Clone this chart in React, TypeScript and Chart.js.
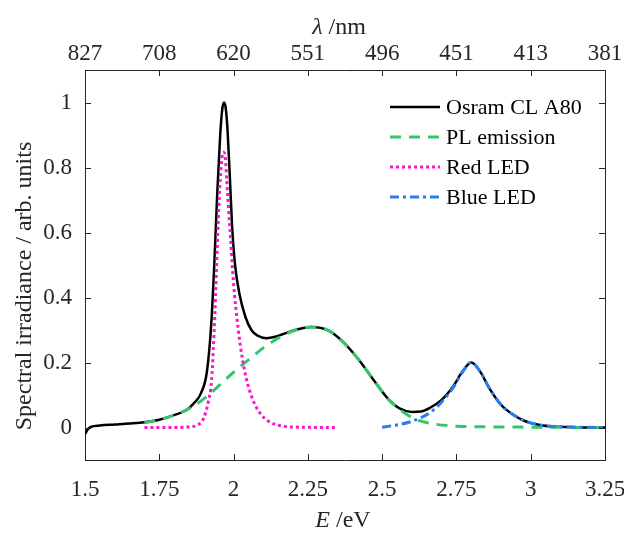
import React, { useEffect, useRef } from 'react';
import { Chart, registerables } from 'chart.js';

Chart.register(...registerables);

// ---- tick values / labels ----
const xTicks = [1.5, 1.75, 2, 2.25, 2.5, 2.75, 3, 3.25];
const xTickLabels = ['1.5', '1.75', '2', '2.25', '2.5', '2.75', '3', '3.25'];
const lambdaTickLabels = ['827', '708', '620', '551', '496', '451', '413', '381'];
const yTicks = [0, 0.2, 0.4, 0.6, 0.8, 1];
const yTickLabels = ['0', '0.2', '0.4', '0.6', '0.8', '1'];

// ---- series ----
const osramE = [1.5, 1.51, 1.52, 1.55, 1.6, 1.65, 1.7, 1.75, 1.8, 1.84, 1.87, 1.89, 1.91, 1.925, 1.935, 1.945, 1.955, 1.962, 1.968, 1.974, 1.98, 1.988, 1.995, 2.005, 2.02, 2.04, 2.06, 2.08, 2.11, 2.14, 2.18, 2.22, 2.26, 2.32, 2.37, 2.42, 2.47, 2.52, 2.56, 2.6, 2.63, 2.66, 2.7, 2.74, 2.77, 2.8, 2.83, 2.86, 2.9, 2.94, 2.98, 3.03, 3.08, 3.15, 3.25];
const osramV = [-0.02, -0.005, 0.002, 0.006, 0.009, 0.012, 0.016, 0.024, 0.038, 0.053, 0.078, 0.105, 0.17, 0.32, 0.5, 0.72, 0.9, 0.98, 1.0, 0.98, 0.91, 0.76, 0.62, 0.5, 0.41, 0.34, 0.3, 0.283, 0.275, 0.279, 0.292, 0.303, 0.309, 0.298, 0.262, 0.21, 0.148, 0.088, 0.058, 0.048, 0.049, 0.06, 0.085, 0.128, 0.172, 0.2, 0.172, 0.122, 0.07, 0.04, 0.02, 0.008, 0.003, 0.001, 0.0];

const plE = [1.7, 1.75, 1.8, 1.85, 1.9, 1.95, 2.0, 2.05, 2.1, 2.15, 2.2, 2.26, 2.32, 2.37, 2.42, 2.47, 2.52, 2.55, 2.59, 2.63, 2.68, 2.75, 2.85, 3.0, 3.25];
const plV = [0.015, 0.024, 0.038, 0.058, 0.088, 0.128, 0.17, 0.208, 0.245, 0.275, 0.297, 0.309, 0.298, 0.262, 0.21, 0.148, 0.088, 0.062, 0.036, 0.02, 0.01, 0.004, 0.002, 0.001, 0.0];

const redE = [1.7, 1.8, 1.85, 1.88, 1.9, 1.915, 1.926, 1.937, 1.945, 1.952, 1.958, 1.965, 1.971, 1.977, 1.988, 1.999, 2.016, 2.03, 2.044, 2.065, 2.089, 2.12, 2.16, 2.22, 2.35];
const redV = [0.0, 0.0, 0.002, 0.008, 0.03, 0.08, 0.146, 0.35, 0.555, 0.71, 0.8, 0.847, 0.84, 0.76, 0.607, 0.453, 0.3, 0.21, 0.146, 0.085, 0.044, 0.018, 0.005, 0.001, 0.0];

const blueE = [2.5, 2.55, 2.59, 2.63, 2.66, 2.7, 2.74, 2.77, 2.8, 2.83, 2.86, 2.9, 2.94, 2.98, 3.03, 3.08, 3.15, 3.25];
const blueV = [0.001, 0.008, 0.016, 0.03, 0.045, 0.078, 0.124, 0.17, 0.2, 0.172, 0.122, 0.07, 0.04, 0.02, 0.008, 0.003, 0.001, 0.0];

const seriesNames = ['Osram CL A80', 'PL emission', 'Red LED', 'Blue LED'];

const AXIS = '#262626';
const FONT = 'Liberation Serif';
const TICK_LEN = 6;

const W = 624;
const H = 533;
const PLOT_LEFT = 85;
const PLOT_RIGHT = 605;
const PLOT_TOP = 70;
const PLOT_BOTTOM = 460;

const pts = (xs: number[], ys: number[]) => xs.map((x, i) => ({ x, y: ys[i] }));

const decorPlugin = {
  id: 'decor',
  afterDraw(chart: any) {
    const ctx = chart.ctx as CanvasRenderingContext2D;
    const { left, right, top, bottom } = chart.chartArea;
    const xs = chart.scales.x;
    const ys = chart.scales.y;
    ctx.save();
    // inward ticks
    ctx.strokeStyle = AXIS;
    ctx.lineWidth = 1;
    ctx.beginPath();
    xTicks.forEach((v) => {
      const px = Math.round(xs.getPixelForValue(v)) + 0.5;
      ctx.moveTo(px, bottom);
      ctx.lineTo(px, bottom - TICK_LEN);
      ctx.moveTo(px, top);
      ctx.lineTo(px, top + TICK_LEN);
    });
    yTicks.forEach((v) => {
      const py = Math.round(ys.getPixelForValue(v)) + 0.5;
      ctx.moveTo(left, py);
      ctx.lineTo(left + TICK_LEN, py);
      ctx.moveTo(right, py);
      ctx.lineTo(right - TICK_LEN, py);
    });
    ctx.stroke();

    // axis titles
    ctx.fillStyle = AXIS;
    ctx.textBaseline = 'alphabetic';
    ctx.textAlign = 'left';
    const drawMixed = (italic: string, rest: string, cx: number, by: number) => {
      ctx.font = `italic 24px "${FONT}"`;
      const w1 = ctx.measureText(italic).width;
      ctx.font = `24px "${FONT}"`;
      const w2 = ctx.measureText(rest).width;
      const x0 = cx - (w1 + w2) / 2;
      ctx.font = `italic 24px "${FONT}"`;
      ctx.fillText(italic, x0, by);
      ctx.font = `24px "${FONT}"`;
      ctx.fillText(rest, x0 + w1, by);
    };
    drawMixed('λ', ' /nm', 339, 34);
    drawMixed('E', ' /eV', 343, 527);

    ctx.save();
    ctx.translate(31, 286);
    ctx.rotate(-Math.PI / 2);
    ctx.textAlign = 'center';
    ctx.font = `24px "${FONT}"`;
    ctx.fillText('Spectral irradiance / arb. units', 0, 0);
    ctx.restore();

    // legend
    const rows = [107, 137, 167, 197];
    chart.data.datasets.forEach((ds: any, i: number) => {
      const y = rows[i];
      ctx.save();
      ctx.strokeStyle = ds.borderColor;
      ctx.lineWidth = ds.borderWidth;
      ctx.setLineDash(ds.borderDash || []);
      ctx.beginPath();
      ctx.moveTo(390, y);
      ctx.lineTo(440, y);
      ctx.stroke();
      ctx.restore();
      ctx.fillStyle = '#000';
      ctx.font = `22px "${FONT}"`;
      ctx.textAlign = 'left';
      ctx.textBaseline = 'middle';
      ctx.fillText(ds.label, 446, y + 1);
    });
    ctx.restore();
  },
};

export default function App() {
  const ref = useRef<HTMLCanvasElement | null>(null);
  useEffect(() => {
    if (!ref.current) return;
    const tickFont = { family: FONT, size: 23 };
    const chart = new Chart(ref.current, {
      type: 'line',
      data: {
        datasets: [
          {
            label: seriesNames[0],
            data: pts(osramE, osramV),
            borderColor: '#000000',
            borderWidth: 2.5,
            pointRadius: 0,
            cubicInterpolationMode: 'monotone',
            order: 3,
          },
          {
            label: seriesNames[1],
            data: pts(plE, plV),
            borderColor: '#33c66e',
            borderWidth: 3,
            borderDash: [11, 8],
            pointRadius: 0,
            cubicInterpolationMode: 'monotone',
            order: 2,
          },
          {
            label: seriesNames[2],
            data: pts(redE, redV),
            borderColor: '#ff14cc',
            borderWidth: 3,
            borderDash: [3, 3],
            pointRadius: 0,
            cubicInterpolationMode: 'monotone',
            order: 1,
          },
          {
            label: seriesNames[3],
            data: pts(blueE, blueV),
            borderColor: '#2a7cf0',
            borderWidth: 3,
            borderDash: [9, 4, 3, 4],
            pointRadius: 0,
            cubicInterpolationMode: 'monotone',
            order: 0,
          },
        ],
      } as any,
      options: {
        animation: false,
        responsive: false,
        maintainAspectRatio: false,
        devicePixelRatio: 1,
        layout: { padding: 0, autoPadding: false },
        plugins: { legend: { display: false }, tooltip: { enabled: false } },
        scales: {
          x: {
            type: 'linear',
            position: 'bottom',
            min: 1.5,
            max: 3.25,
            afterBuildTicks: (s: any) => {
              s.ticks = xTicks.map((v) => ({ value: v }));
            },
            afterFit: (s: any) => {
              s.height = H - PLOT_BOTTOM;
              s.paddingLeft = 0;
              s.paddingRight = 0;
            },
            grid: { display: false, drawTicks: false },
            border: { display: true, color: AXIS, width: 1 },
            ticks: {
              autoSkip: false,
              maxRotation: 0,
              padding: 16,
              color: AXIS,
              font: tickFont,
              callback: (_v: any, i: number) => xTickLabels[i],
            },
          },
          xTop: {
            type: 'linear',
            position: 'top',
            min: 1.5,
            max: 3.25,
            afterBuildTicks: (s: any) => {
              s.ticks = xTicks.map((v) => ({ value: v }));
            },
            afterFit: (s: any) => {
              s.height = PLOT_TOP;
              s.paddingLeft = 0;
              s.paddingRight = 0;
            },
            grid: { display: false, drawTicks: false },
            border: { display: true, color: AXIS, width: 1 },
            ticks: {
              autoSkip: false,
              maxRotation: 0,
              padding: 2,
              color: AXIS,
              font: tickFont,
              callback: (_v: any, i: number) => lambdaTickLabels[i],
            },
          },
          y: {
            type: 'linear',
            position: 'left',
            min: -0.1,
            max: 1.1,
            afterBuildTicks: (s: any) => {
              s.ticks = yTicks.map((v) => ({ value: v }));
            },
            afterFit: (s: any) => {
              s.width = PLOT_LEFT;
              s.paddingTop = 0;
              s.paddingBottom = 0;
            },
            grid: { display: false, drawTicks: false },
            border: { display: true, color: AXIS, width: 1 },
            ticks: {
              padding: 13,
              color: AXIS,
              font: tickFont,
              callback: (_v: any, i: number) => yTickLabels[i],
            },
          },
          yRight: {
            type: 'linear',
            position: 'right',
            min: -0.1,
            max: 1.1,
            afterFit: (s: any) => {
              s.width = W - PLOT_RIGHT;
              s.paddingTop = 0;
              s.paddingBottom = 0;
            },
            grid: { display: false, drawTicks: false },
            border: { display: true, color: AXIS, width: 1 },
            ticks: { display: false },
          },
        },
      } as any,
      plugins: [decorPlugin],
    });
    return () => chart.destroy();
  }, []);

  return (
    <div style={{ position: 'absolute', left: 0, top: 0, width: W, height: H, background: '#fff' }}>
      <canvas ref={ref} width={W} height={H} style={{ width: W, height: H, display: 'block' }} />
    </div>
  );
}
